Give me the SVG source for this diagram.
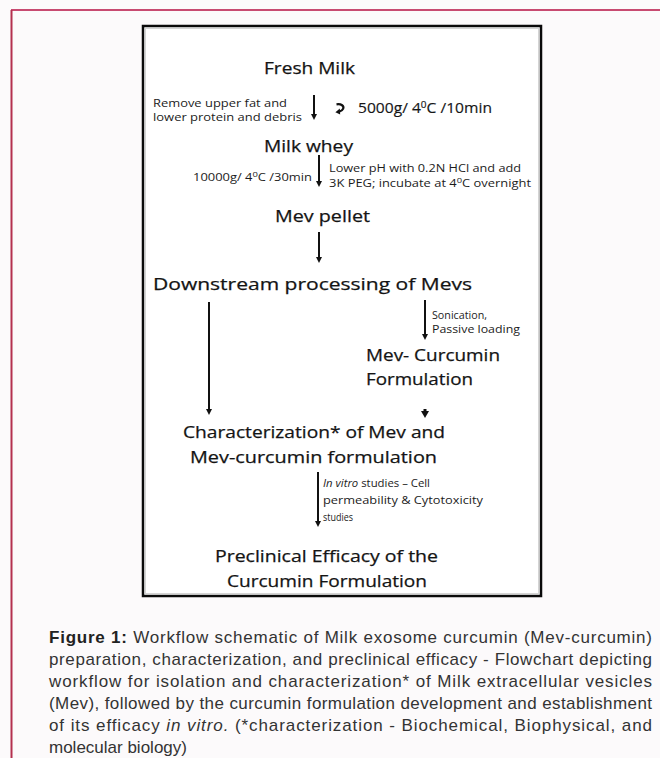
<svg xmlns="http://www.w3.org/2000/svg" width="660" height="758" viewBox="0 0 660 758">
<style>
.lg{font-family:"Open Sans","DejaVu Sans",sans-serif;font-size:17px;fill:#141414;stroke:#141414;stroke-width:0.25}
.md{font-family:"Open Sans","DejaVu Sans",sans-serif;font-size:14px;fill:#161616;stroke:#161616;stroke-width:0.15}
.sm{font-family:"Open Sans","DejaVu Sans",sans-serif;font-size:11px;fill:#1c1c1c}
.cap{font-family:"Liberation Sans",Arial,sans-serif;font-size:17px;fill:#333}
.arrow{stroke:#111;stroke-width:2;fill:none;marker-end:url(#ah)}
</style>
<defs>
<marker id="ah" markerUnits="userSpaceOnUse" markerWidth="8" markerHeight="8" refX="3" refY="3" orient="auto">
<path d="M0,0 L6,3 L0,6 z" fill="#111"/>
</marker>
<marker id="ahb" markerUnits="userSpaceOnUse" markerWidth="10" markerHeight="10" refX="3" refY="4" orient="auto">
<path d="M0,0 L7,4 L0,8 z" fill="#111"/>
</marker>
</defs>
<rect x="0" y="0" width="660" height="758" fill="#fcfafb"/>
<line x1="11" y1="10" x2="660" y2="10" stroke="#c84a71" stroke-width="2"/>
<line x1="11.5" y1="10" x2="11.5" y2="758" stroke="#b4304f" stroke-width="2"/>
<g id="frame">
<rect x="143" y="26" width="398" height="570" fill="#fff" stroke="#0a0a0a" stroke-width="2.5"/>
<rect x="145.5" y="28.5" width="393" height="565" fill="none" stroke="#d4d4d4" stroke-width="1"/>
</g>
<g id="fresh-milk"><text class="lg" x="264" y="74" textLength="91" lengthAdjust="spacingAndGlyphs">Fresh Milk</text></g>
<g id="milk-whey"><text class="lg" x="264" y="152" textLength="89" lengthAdjust="spacingAndGlyphs">Milk whey</text></g>
<g id="mev-pellet"><text class="lg" x="275" y="222" textLength="95" lengthAdjust="spacingAndGlyphs">Mev pellet</text></g>
<g id="downstream"><text class="lg" x="153" y="290" textLength="319" lengthAdjust="spacingAndGlyphs">Downstream processing of Mevs</text></g>
<g id="mev-curcumin">
<text class="lg" x="366" y="361" textLength="134" lengthAdjust="spacingAndGlyphs">Mev- Curcumin</text>
<text class="lg" x="366" y="385" textLength="107" lengthAdjust="spacingAndGlyphs">Formulation</text>
</g>
<g id="characterization">
<text class="lg" x="183" y="438" textLength="262" lengthAdjust="spacingAndGlyphs">Characterization* of Mev and</text>
<text class="lg" x="190" y="463" textLength="247" lengthAdjust="spacingAndGlyphs">Mev-curcumin formulation</text>
</g>
<g id="preclinical">
<text class="lg" x="215" y="562" textLength="223" lengthAdjust="spacingAndGlyphs">Preclinical Efficacy of the</text>
<text class="lg" x="227" y="587" textLength="200" lengthAdjust="spacingAndGlyphs">Curcumin Formulation</text>
</g>
<g id="connectors">
<line class="arrow" x1="314" y1="95" x2="314" y2="117"/>
<line class="arrow" x1="319" y1="155" x2="319" y2="184"/>
<line class="arrow" x1="319" y1="232" x2="319" y2="260"/>
<line class="arrow" x1="209" y1="302" x2="209" y2="412"/>
<line class="arrow" x1="425" y1="300" x2="425" y2="337"/>
<line x1="425" y1="409" x2="425" y2="414" stroke="#111" stroke-width="3" marker-end="url(#ahb)"/>
<line class="arrow" x1="318" y1="472" x2="318" y2="524"/>
<path d="M336.5,104.3 C341.5,103.5 344.2,106.2 343.2,108.6 C342.5,110.3 341,111.2 339.2,111.6" fill="none" stroke="#111" stroke-width="2.2"/>
<path d="M339.8,108.6 L340.2,114.4 L335.4,112.2 z" fill="#111"/>
</g>
<g id="edge-labels">
<text class="sm" x="153" y="107" textLength="134" lengthAdjust="spacingAndGlyphs">Remove upper fat and</text>
<text class="sm" x="153" y="121" textLength="149" lengthAdjust="spacingAndGlyphs">lower protein and debris</text>
<text class="md" x="358" y="113" textLength="134" lengthAdjust="spacingAndGlyphs">5000g/ 4<tspan dy="-5" font-size="9">0</tspan><tspan dy="5">C /10min</tspan></text>
<text class="sm" x="193" y="181" textLength="119" lengthAdjust="spacingAndGlyphs">10000g/ 4<tspan dy="-4" font-size="8">0</tspan><tspan dy="4">C /30min</tspan></text>
<text class="sm" x="329" y="172" textLength="192" lengthAdjust="spacingAndGlyphs">Lower pH with 0.2N HCl and add</text>
<text class="sm" x="329" y="187" textLength="202" lengthAdjust="spacingAndGlyphs">3K PEG; incubate at 4<tspan dy="-4" font-size="8">0</tspan><tspan dy="4">C overnight</tspan></text>
<text class="sm" x="432" y="319" textLength="55" lengthAdjust="spacingAndGlyphs">Sonication,</text>
<text class="sm" x="432" y="333" textLength="88" lengthAdjust="spacingAndGlyphs">Passive loading</text>
<text class="sm" x="323" y="487" textLength="107" lengthAdjust="spacingAndGlyphs"><tspan font-style="italic">In vitro</tspan> studies – Cell</text>
<text class="sm" x="323" y="504" textLength="160" lengthAdjust="spacingAndGlyphs">permeability &amp; Cytotoxicity</text>
<text class="sm" x="323" y="521" textLength="30" lengthAdjust="spacingAndGlyphs">studies</text>
</g>
<g id="caption">
<text class="cap" x="49" y="643" textLength="603" lengthAdjust="spacing"><tspan font-weight="bold" fill="#222">Figure 1:</tspan> Workflow schematic of Milk exosome curcumin (Mev-curcumin)</text>
<text class="cap" x="49" y="665" textLength="603" lengthAdjust="spacing">preparation, characterization, and preclinical efficacy - Flowchart depicting</text>
<text class="cap" x="49" y="687" textLength="603" lengthAdjust="spacing">workflow for isolation and characterization* of Milk extracellular vesicles</text>
<text class="cap" x="49" y="709" textLength="603" lengthAdjust="spacing">(Mev), followed by the curcumin formulation development and establishment</text>
<text class="cap" x="49" y="731" textLength="603" lengthAdjust="spacing">of its efficacy <tspan font-style="italic">in vitro.</tspan> (*characterization - Biochemical, Biophysical, and</text>
<text class="cap" x="49" y="753">molecular biology)</text>
</g>
</svg>
